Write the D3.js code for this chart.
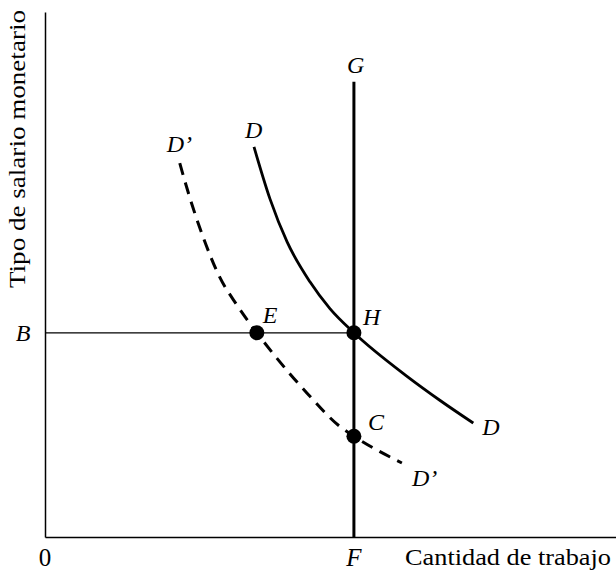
<!DOCTYPE html>
<html>
<head>
<meta charset="utf-8">
<script src="https://cdn.jsdelivr.net/npm/d3@7"></script>
<style>
  html, body { margin: 0; padding: 0; background: #fff; }
  svg text { font-family: "Liberation Serif", "DejaVu Serif", serif; fill: #000; }
</style>
</head>
<body>
<svg id="chart" width="616" height="570"></svg>
<script>
// ---- data (abstract units: quantity of labour 0–100, money wage 0–100) ----
const xLabel = "Cantidad de trabajo";
const yLabel = "Tipo de salario monetario";
const fixedLabour = 54.1;          // F (vertical supply G–F)
const supplyTop = 86.7;            // G
const wageB = 38.9;                // B
// Demand curve D
const demandD_x = [36.6, 39.4, 42.4, 46.4, 49.9, 54.1, 63.4, 69.2, 75.0];
const demandD_y = [74.3, 64.4, 56.2, 48.6, 43.5, 38.9, 30.6, 26.0, 21.7];
// Shifted demand curve D'
const demandD2_x = [23.6, 25.4, 27.7, 30.6, 33.6, 37.1, 39.9, 45.9, 51.7, 54.1, 62.5];
const demandD2_y = [71.2, 64.5, 57.1, 49.5, 44.2, 38.9, 35.0, 27.4, 21.0, 19.2, 14.1];
// Marked points
const pointNames = ["E", "H", "C"];
const pointX = [37.1, 54.1, 54.1];
const pointY = [38.9, 38.9, 19.2];
const xTickLabels = ["0", "F"];
const xTickValues = [0, fixedLabour];
const yTickLabels = ["B"];
const yTickValues = [wageB];

// ---- drawing ----
const svg = d3.select("#chart");
const x = d3.scaleLinear().domain([0, 100]).range([45, 616]);
const y = d3.scaleLinear().domain([0, 100]).range([537, 12]);

const toPts = (xs, ys) => xs.map((v, i) => [v, ys[i]]);
const line = d3.line().x(d => x(d[0])).y(d => y(d[1])).curve(d3.curveMonotoneX);

// axes (plain lines, no ticks)
const xAxis = d3.axisBottom(x).tickValues([]).tickSize(0).tickSizeOuter(0);
const yAxis = d3.axisLeft(y).tickValues([]).tickSize(0).tickSizeOuter(0);
svg.append("g").attr("transform", `translate(0,${y(0)})`).call(xAxis)
  .call(g => g.select(".domain").attr("stroke", "#000").attr("stroke-width", 1.5));
svg.append("g").attr("transform", `translate(${x(0)},0)`).call(yAxis)
  .call(g => g.select(".domain").attr("stroke", "#000").attr("stroke-width", 1.5));

// horizontal wage line B -> H
svg.append("line")
  .attr("x1", x(0)).attr("x2", x(fixedLabour))
  .attr("y1", y(wageB)).attr("y2", y(wageB))
  .attr("stroke", "#000").attr("stroke-width", 1.3);

// vertical line F -> G
svg.append("line")
  .attr("x1", x(fixedLabour)).attr("x2", x(fixedLabour))
  .attr("y1", y(0)).attr("y2", y(supplyTop))
  .attr("stroke", "#000").attr("stroke-width", 3);

// demand D
svg.append("path").datum(toPts(demandD_x, demandD_y))
  .attr("d", line).attr("fill", "none").attr("stroke", "#000").attr("stroke-width", 2.8);

// demand D'
svg.append("path").datum(toPts(demandD2_x, demandD2_y))
  .attr("d", line).attr("fill", "none").attr("stroke", "#000").attr("stroke-width", 3)
  .attr("stroke-dasharray", "12,8");

// points
svg.selectAll("circle.pt").data(pointNames).join("circle")
  .attr("class", "pt")
  .attr("cx", (d, i) => x(pointX[i])).attr("cy", (d, i) => y(pointY[i]))
  .attr("r", 7.5).attr("fill", "#000");

// point labels
const ptOffsets = { E: [6, -10], H: [9, -8], C: [14, -6] };
svg.selectAll("text.ptl").data(pointNames).join("text")
  .attr("class", "ptl")
  .attr("x", (d, i) => x(pointX[i]) + ptOffsets[d][0])
  .attr("y", (d, i) => y(pointY[i]) + ptOffsets[d][1])
  .attr("font-size", 24).attr("font-style", "italic").text(d => d);

// curve labels
const n1 = demandD_x.length - 1, n2 = demandD2_x.length - 1;
const curveLabels = [
  { t: "D",  px: x(demandD_x[0]) - 9,   py: y(demandD_y[0]) - 9 },
  { t: "D’", px: x(demandD2_x[0]) - 13, py: y(demandD2_y[0]) - 11 },
  { t: "D",  px: x(demandD_x[n1]) + 9,  py: y(demandD_y[n1]) + 12 },
  { t: "D’", px: x(demandD2_x[n2]) + 10, py: y(demandD2_y[n2]) + 23 },
  { t: "G",  px: x(fixedLabour) - 7,    py: y(supplyTop) - 9 }
];
svg.selectAll("text.cl").data(curveLabels).join("text")
  .attr("class", "cl")
  .attr("x", d => d.px).attr("y", d => d.py)
  .attr("font-size", 24).attr("font-style", "italic").text(d => d.t);

// x tick labels
svg.selectAll("text.xt").data(xTickLabels).join("text")
  .attr("class", "xt")
  .attr("x", (d, i) => x(xTickValues[i])).attr("y", 566)
  .attr("text-anchor", "middle").attr("font-size", 25)
  .attr("font-style", (d, i) => i === 0 ? "normal" : "italic")
  .text(d => d);

// y tick labels
svg.selectAll("text.yt").data(yTickLabels).join("text")
  .attr("class", "yt")
  .attr("x", 23).attr("y", (d, i) => y(yTickValues[i]) + 8)
  .attr("text-anchor", "middle").attr("font-size", 24).attr("font-style", "italic")
  .text(d => d);

// axis titles
svg.append("text")
  .attr("x", 405).attr("y", 565)
  .attr("font-size", 24).attr("textLength", 206).attr("lengthAdjust", "spacingAndGlyphs")
  .text(xLabel);
svg.append("text")
  .attr("transform", "translate(25,288) rotate(-90)")
  .attr("font-size", 24).attr("textLength", 278).attr("lengthAdjust", "spacingAndGlyphs")
  .text(yLabel);
</script>
</body>
</html>
